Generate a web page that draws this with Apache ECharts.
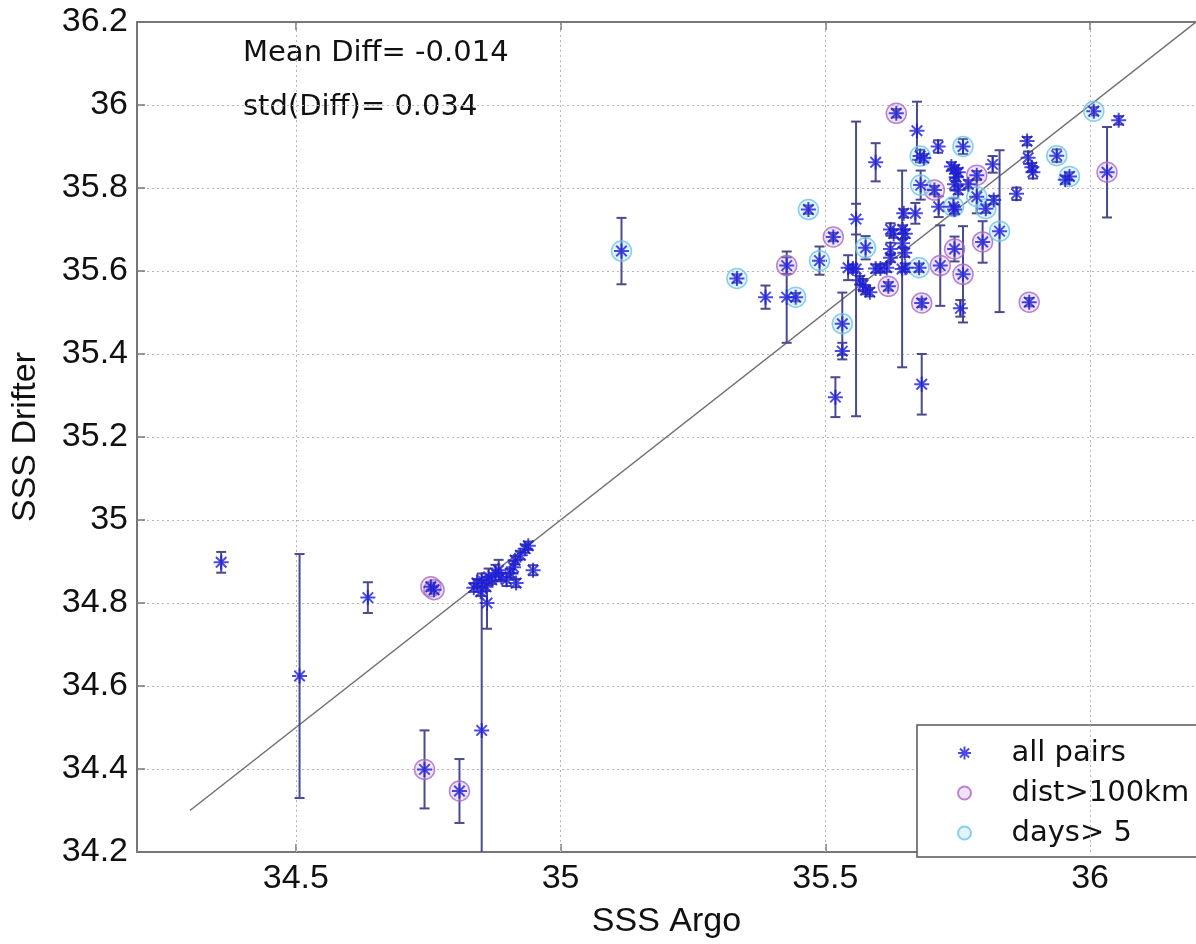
<!DOCTYPE html>
<html>
<head>
<meta charset="utf-8">
<script src="https://cdn.jsdelivr.net/npm/echarts@6/dist/echarts.min.js"></script>
<style>
html, body { margin: 0; padding: 0; background: #fff; }
#main { width: 1196px; height: 944px; }
</style>
</head>
<body>
<div id="main"></div>
<script>
// SSS from Argo floats (x) vs drifters (y), half length of the error bar, and pair type
// flag: 'd' = dist>100km, 'c' = days> 5, '-' = none
var argo = [
  35.634,35.673,35.679,35.686,35.713,35.760,35.595,35.558,35.558,35.468,
  35.515,35.333,35.387,35.427,35.427,35.444,35.489,35.532,35.532,35.519,
  35.645,35.682,35.682,35.717,35.760,35.755,35.797,35.829,35.885,36.032,
  36.007,36.054,35.953,35.961,35.937,35.881,35.883,35.890,35.892,35.861,
  35.816,35.818,35.803,35.786,35.786,35.738,35.744,35.751,35.747,35.744,
  35.751,35.742,35.744,35.770,35.714,35.706,35.680,35.670,35.648,35.646,
  35.651,35.646,35.650,35.623,35.629,35.623,35.623,35.616,35.595,35.604,
  35.576,35.543,35.552,35.565,35.571,35.576,35.584,35.619,35.677,35.651,
  35.744,35.115,
  34.359,34.507,34.636,34.755,34.761,34.743,34.809,34.851,34.861,34.836,
  34.842,34.851,34.859,34.864,34.870,34.877,34.883,34.888,34.898,34.905,
  34.911,34.914,34.924,34.933,34.939,34.948,34.849,34.916
];
var drifter = [
  35.980,35.938,35.877,35.872,35.900,35.900,35.862,35.725,35.605,35.748,
  35.682,35.582,35.537,35.537,35.613,35.537,35.625,35.473,35.407,35.296,
  35.605,35.327,35.523,35.613,35.592,35.510,35.670,35.696,35.525,35.838,
  35.985,35.963,35.820,35.828,35.878,35.913,35.873,35.850,35.838,35.786,
  35.857,35.771,35.750,35.779,35.831,35.852,35.845,35.838,35.826,35.809,
  35.795,35.755,35.748,35.809,35.755,35.795,35.807,35.739,35.739,35.700,
  35.690,35.667,35.644,35.700,35.690,35.653,35.632,35.608,35.606,35.606,
  35.656,35.608,35.606,35.578,35.566,35.554,35.549,35.563,35.608,35.608,
  35.653,35.648,
  34.898,34.624,34.813,34.839,34.832,34.399,34.347,34.493,34.800,34.837,
  34.848,34.856,34.839,34.863,34.856,34.872,34.879,34.863,34.856,34.872,
  34.886,34.903,34.915,34.931,34.938,34.879,34.827,34.848
];
var errHalf = [
  0.010,0.070,0.015,0.010,0.015,0.018,0.046,0.037,0.355,0.010,
  0.010,0.010,0.028,0.110,0.020,0.010,0.034,0.075,0.020,0.048,
  0.237,0.073,0.010,0.097,0.116,0.020,0.050,0.195,0.010,0.109,
  0.010,0.010,0.010,0.010,0.015,0.010,0.015,0.010,0.015,0.015,
  0.020,0.010,0.010,0.040,0.010,0.010,0.010,0.010,0.010,0.015,
  0.010,0.020,0.010,0.010,0.025,0.010,0.035,0.025,0.010,0.010,
  0.010,0.010,0.010,0.015,0.010,0.015,0.010,0.010,0.010,0.010,
  0.028,0.030,0.010,0.010,0.015,0.010,0.010,0.010,0.010,0.010,
  0.030,0.080,
  0.025,0.294,0.037,0.010,0.010,0.094,0.077,0.362,0.062,0.010,
  0.010,0.015,0.010,0.020,0.010,0.020,0.025,0.010,0.015,0.010,
  0.015,0.010,0.010,0.010,0.010,0.012,0.010,0.010
];
var flag = [
  'd','-','c','-','-','c','-','-','-','c',
  'd','c','-','-','d','c','c','c','-','-',
  '-','-','d','d','d','-','d','c','d','d',
  'c','-','-','c','c','-','-','-','-','-',
  '-','-','c','c','d','-','-','-','-','-',
  '-','c','-','-','-','d','c','-','-','-',
  '-','-','-','-','-','-','-','-','-','-',
  'c','-','-','-','-','-','-','d','c','-',
  'd','c',
  '-','-','-','d','d','d','d','-','-','-',
  '-','-','-','-','-','-','-','-','-','-',
  '-','-','-','-','-','-','-','-'
];
var xTicks = [34.5, 35, 35.5, 36];
var oneToOne = [[34.3, 34.3], [36.2, 36.2]];
var statText = ['Mean Diff= -0.014', 'std(Diff)= 0.034'];

var allPts = [], distPts = [], daysPts = [];
for (var i = 0; i < argo.length; i++) {
  allPts.push([argo[i], drifter[i], errHalf[i]]);
  if (flag[i] === 'd') distPts.push([argo[i], drifter[i]]);
  if (flag[i] === 'c') daysPts.push([argo[i], drifter[i]]);
}

var star = 'path://M10,0L10,20M0,10L20,10M3,3L17,17M3,17L17,3';
var axisFont = 'Liberation Sans, Arial, sans-serif';
var textFont = 'DejaVu Sans, sans-serif';
var barColor = '#4a4a8e';

function renderBar(params, api) {
  var x = api.value(0), y = api.value(1), e = api.value(2);
  var top = api.coord([x, y + e]);
  var bot = api.coord([x, y - e]);
  var cs = params.coordSys;
  var yMin = cs.y, yMax = cs.y + cs.height;
  var st = { stroke: barColor, lineWidth: 2 };
  var kids = [{
    type: 'line',
    shape: { x1: top[0], y1: Math.max(top[1], yMin), x2: top[0], y2: Math.min(bot[1], yMax) },
    style: st
  }];
  if (top[1] >= yMin) {
    kids.push({ type: 'line', shape: { x1: top[0] - 5, y1: top[1], x2: top[0] + 5, y2: top[1] }, style: st });
  }
  if (bot[1] <= yMax) {
    kids.push({ type: 'line', shape: { x1: bot[0] - 5, y1: bot[1], x2: bot[0] + 5, y2: bot[1] }, style: st });
  }
  return { type: 'group', children: kids };
}

var myChart = echarts.init(document.getElementById('main'));

var option = {
  animation: false,
  backgroundColor: '#fff',
  grid: { left: 137, right: -13, top: 22, bottom: 77 },
  legend: {
    data: ['all pairs', 'dist>100km', 'days> 5'],
    orient: 'vertical',
    left: 917,
    top: 725,
    padding: [13, 40, 9, 40],
    itemWidth: 84,
    itemHeight: 13,
    itemGap: 10,
    selectedMode: false,
    backgroundColor: '#fff',
    borderColor: '#555',
    borderWidth: 1.5,
    textStyle: { fontFamily: textFont, fontSize: 29, color: '#111', lineHeight: 30 }
  },
  graphic: [
    { type: 'text', x: 243, y: 53, style: { text: statText[0], fontFamily: textFont, fontSize: 29, fill: '#111', verticalAlign: 'middle' } },
    { type: 'text', x: 243, y: 107, style: { text: statText[1], fontFamily: textFont, fontSize: 29, fill: '#111', verticalAlign: 'middle' } }
  ],
  xAxis: [{
    type: 'value',
    min: 34.2,
    max: 36.2,
    position: 'bottom',
    name: 'SSS Argo',
    nameLocation: 'middle',
    nameGap: 53,
    nameTextStyle: { fontFamily: axisFont, fontSize: 34, color: '#111' },
    axisLine: { show: true, lineStyle: { color: '#777', width: 2 } },
    axisTick: { show: true, inside: true, length: 8, customValues: xTicks, lineStyle: { color: '#777', width: 1.5 } },
    axisLabel: { customValues: xTicks, margin: 10, fontFamily: axisFont, fontSize: 34, color: '#111' },
    splitLine: { show: false }
  }, {
    type: 'value',
    min: 34.2,
    max: 36.2,
    position: 'top',
    axisLine: { show: true, lineStyle: { color: '#777', width: 2 } },
    axisTick: { show: true, inside: true, length: 8, customValues: xTicks, lineStyle: { color: '#777', width: 1.5 } },
    axisLabel: { show: false },
    splitLine: { show: false }
  }],
  yAxis: {
    type: 'value',
    min: 34.2,
    max: 36.2,
    interval: 0.2,
    name: 'SSS Drifter',
    nameLocation: 'middle',
    nameGap: 94,
    nameTextStyle: { fontFamily: axisFont, fontSize: 34, color: '#111' },
    axisLine: { show: true, lineStyle: { color: '#777', width: 2 } },
    axisTick: { show: true, inside: true, length: 8, lineStyle: { color: '#777', width: 1.5 } },
    axisLabel: { margin: 9, fontFamily: axisFont, fontSize: 34, color: '#111' },
    splitLine: { show: true, lineStyle: { color: '#b8b8b8', type: [2, 3], width: 1 } }
  },
  series: [
    {
      name: '1:1',
      type: 'line',
      data: oneToOne,
      symbol: 'none',
      z: 1,
      lineStyle: { color: '#707070', width: 1.5 },
      emphasis: { disabled: true },
      markLine: {
        silent: true,
        symbol: 'none',
        label: { show: false },
        lineStyle: { color: '#b8b8b8', type: [2, 3], width: 1 },
        emphasis: { disabled: true },
        data: xTicks.map(function (v) { return { xAxis: v }; })
      }
    },
    {
      name: 'errorbar',
      type: 'custom',
      renderItem: renderBar,
      data: allPts,
      encode: { x: 0, y: 1 },
      z: 2,
      silent: true
    },
    {
      name: 'dist>100km',
      type: 'scatter',
      data: distPts,
      symbol: 'circle',
      symbolSize: 20,
      z: 3,
      itemStyle: { color: 'rgba(200,150,225,0.35)', borderColor: '#a868c4', borderWidth: 1.5 },
      emphasis: { disabled: true }
    },
    {
      name: 'days> 5',
      type: 'scatter',
      data: daysPts,
      symbol: 'circle',
      symbolSize: 20,
      z: 3,
      itemStyle: { color: 'rgba(150,215,245,0.35)', borderColor: '#6cc4e6', borderWidth: 1.5 },
      emphasis: { disabled: true }
    },
    {
      name: 'all pairs',
      type: 'scatter',
      data: allPts,
      symbol: star,
      symbolSize: 15,
      z: 4,
      itemStyle: { color: 'transparent', borderColor: '#1e1ed8', borderWidth: 2 },
      emphasis: { disabled: true }
    }
  ]
};

myChart.setOption(option);
</script>
</body>
</html>
